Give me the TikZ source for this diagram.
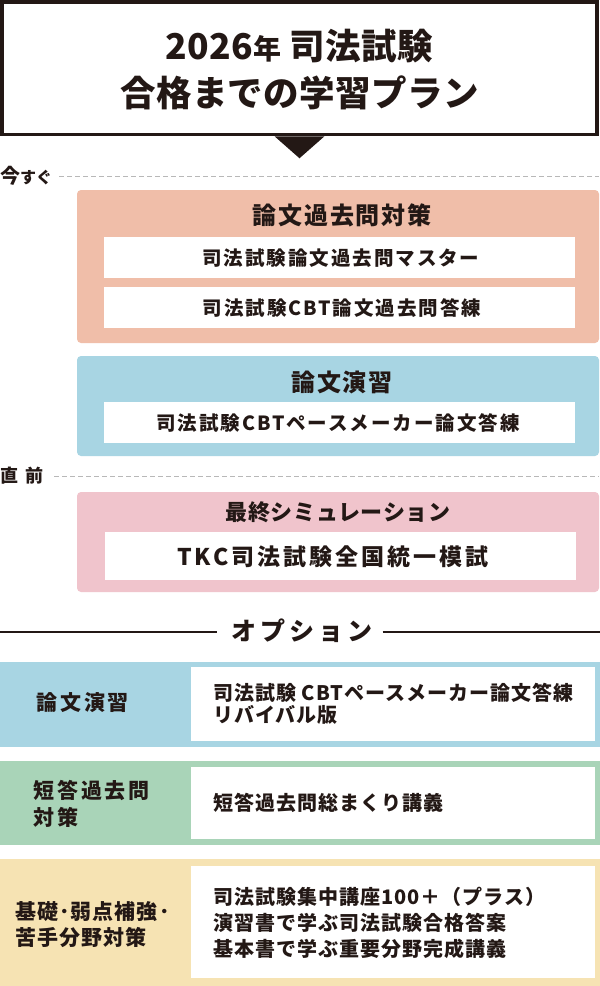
\documentclass[tikz,border=0pt]{standalone}
\usepackage{fontspec}
\setmainfont{Noto Sans CJK JP}
\definecolor{ink}{HTML}{231815}
\definecolor{cOrange}{HTML}{F0BEA9}
\definecolor{cBlue}{HTML}{A8D5E3}
\definecolor{cPink}{HTML}{F0C4CC}
\definecolor{cGreen}{HTML}{A9D4B8}
\definecolor{cYellow}{HTML}{F6E3B3}
\definecolor{cDash}{HTML}{B8B8B8}
\newcommand\fsz[2]{\fontsize{#1pt}{#2pt}\selectfont}
\newcommand\lsp[1]{\addfontfeature{LetterSpace=#1}}
\begin{document}
\begin{tikzpicture}[x=1pt,y=-1pt,
  txt/.style={inner sep=0pt, text=ink},
  panel/.style={rounded corners=4pt, inner sep=0pt},
  rowpanel/.style={inner sep=0pt},
  whitebox/.style={fill=white, inner sep=0pt},
  dashline/.style={cDash, line width=0.8pt, dash pattern=on 5pt off 3pt},
  optline/.style={ink, line width=1.2pt}]
\useasboundingbox (0,0) rectangle (600,986);
\fill[white] (0,0) rectangle (600,986);

% title
\node[draw=ink, line width=3.5pt, minimum width=595pt, minimum height=132.5pt, inner sep=0pt] (tbox) at (299.5,68.25) {};
\node[txt, align=center, font=\bfseries\fsz{35.5}{43}\lsp{1}] (ttl) at (299.5,69.5) {2026{\fsz{28}{43}\lsp{1}年} 司法試験\\[4pt]合格までの学習プラン};
\fill[ink] ([xshift=-25pt]tbox.south) -- ([xshift=25pt]tbox.south) -- ([yshift=-22pt]tbox.south) -- cycle;

% now line
\node[txt, anchor=west, font=\bfseries] (now) at (0,176) {\fsz{20}{20}今\fsz{16}{20}すぐ};
\coordinate (nowend) at (599,176);
\draw[dashline] ([xshift=7pt]now.east) -- (nowend);

% panel 1
\node[panel, fill=cOrange, minimum width=522pt, minimum height=153pt] (p1) at (338,266.5) {};
\node[txt, font=\bfseries\fsz{24}{24}\lsp{8}] (p1t) at (342,215) {論文過去問対策};
\node[whitebox, minimum width=471pt, minimum height=41pt] (w11) at (339.5,257.5) {};
\node[txt, font=\bfseries\fsz{19.5}{19.5}\lsp{10}] (w11t) at (341,258) {司法試験論文過去問マスター};
\node[whitebox, minimum width=471pt, minimum height=41pt] (w12) at (339.5,307.5) {};
\node[txt, font=\bfseries\fsz{19.5}{19.5}\lsp{10}] (w12t) at (342,308) {司法試験CBT論文過去問答練};

% panel 2
\node[panel, fill=cBlue, minimum width=522pt, minimum height=100pt] (p2) at (338,406) {};
\node[txt, font=\bfseries\fsz{24}{24}\lsp{8}] (p2t) at (342,382) {論文演習};
\node[whitebox, minimum width=471pt, minimum height=41pt] (w21) at (339.5,422.5) {};
\node[txt, font=\bfseries\fsz{19.5}{19.5}\lsp{10}] (w21t) at (338,423) {司法試験CBTペースメーカー論文答練};

% just before line
\node[txt, anchor=west, font=\bfseries\fsz{18}{18}] (last) at (0,476) {直\hspace{7pt}前};
\coordinate (lastend) at (599,476);
\draw[dashline] ([xshift=11pt]last.east) -- (lastend);

% panel 3
\node[panel, fill=cPink, minimum width=522pt, minimum height=100pt] (p3) at (338,542) {};
\node[txt, font=\bfseries\fsz{22}{22}\lsp{3}] (p3t) at (338,512) {最終シミュレーション};
\node[whitebox, minimum width=471pt, minimum height=48pt] (w31) at (340,556) {};
\node[txt, font=\bfseries\fsz{23}{23}\lsp{13}] (w31t) at (333,557) {TKC司法試験全国統一模試};

% options heading
\node[txt, font=\bfseries\fsz{25}{25}\lsp{16}] (opt) at (302,631) {オプション};
\coordinate (optL) at (0,632);
\coordinate (optR) at (600,632);
\draw[optline] (optL) -- ([xshift=-14pt]opt.west |- optL);
\draw[optline] ([xshift=10pt]opt.east |- optR) -- (optR);

% option row 1
\node[rowpanel, fill=cBlue, minimum width=600pt, minimum height=85pt] (r1) at (300,704.5) {};
\node[whitebox, minimum width=404pt, minimum height=74pt] (r1w) at (393,704) {};
\node[txt, anchor=west, font=\bfseries\fsz{21}{21}\lsp{14}] (r1l) at (36,703) {論文演習};
\node[txt, anchor=west, align=left, font=\bfseries\fsz{20}{22}\lsp{5}] (r1r) at (213,704) {司法試験 CBTペースメーカー論文答練\\リバイバル版};

% option row 2
\node[rowpanel, fill=cGreen, minimum width=600pt, minimum height=84pt] (r2) at (300,803) {};
\node[whitebox, minimum width=404pt, minimum height=72pt] (r2w) at (393,803) {};
\node[txt, anchor=west, align=left, font=\bfseries\fsz{21}{27}\lsp{14}] (r2l) at (33,803.5) {短答過去問\\対策};
\node[txt, anchor=west, font=\bfseries\fsz{20}{20}\lsp{5}] (r2r) at (213,803) {短答過去問総まくり講義};

% option row 3
\node[rowpanel, fill=cYellow, minimum width=600pt, minimum height=127pt] (r3) at (300,922.5) {};
\node[whitebox, minimum width=404pt, minimum height=112pt] (r3w) at (393,922) {};
\node[txt, anchor=west, align=left, font=\bfseries\fsz{21}{26}\lsp{5}] (r3l) at (15,925) {基礎･弱点補強･\\苦手分野対策};
\node[txt, anchor=west, align=left, font=\bfseries\fsz{20}{26}\lsp{5}] (r3r) at (213,923) {司法試験集中講座100＋（プラス）\\演習書で学ぶ司法試験合格答案\\基本書で学ぶ重要分野完成講義};
\end{tikzpicture}
\end{document}
